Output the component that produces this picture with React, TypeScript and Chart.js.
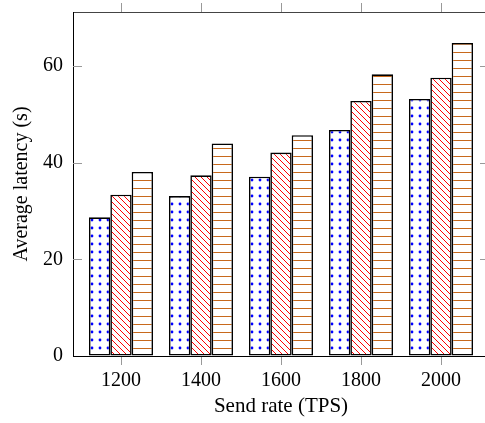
import React, { useEffect, useRef } from 'react';
import { Chart, registerables } from 'chart.js';

Chart.register(...registerables);

// ---- data ----
const sendRates = [1200, 1400, 1600, 1800, 2000];
const seriesDots = [28.7, 33.1, 37.1, 46.8, 53.2];
const seriesDiag = [33.4, 37.4, 42.1, 52.8, 57.6];
const seriesHoriz = [38.1, 44.0, 45.7, 58.3, 64.8];
const yTickValues = [0, 20, 40, 60];
const xTickValues = sendRates;
const xTitle = 'Send rate (TPS)';
const yTitle = 'Average latency (s)';

const FONT_FAMILY = "'Liberation Serif', 'Times New Roman', Times, serif";

function makePattern(kind: 'dots' | 'diag' | 'horiz'): CanvasPattern | string {
  const c = document.createElement('canvas');
  const s = kind === 'diag' ? 6 : 8;
  c.width = s;
  c.height = s;
  const g = c.getContext('2d');
  if (!g) return '#fff';
  g.fillStyle = '#ffffff';
  g.fillRect(0, 0, s, s);
  if (kind === 'dots') {
    g.fillStyle = '#0000ff';
    g.beginPath();
    g.arc(4, 4, 1.4, 0, Math.PI * 2);
    g.fill();
  } else if (kind === 'diag') {
    g.strokeStyle = '#ff0000';
    g.lineWidth = 1;
    g.beginPath();
    for (const k of [-s, 0, s]) {
      g.moveTo(k, 0);
      g.lineTo(k + s, s);
    }
    g.stroke();
  } else {
    g.fillStyle = '#c8691c';
    g.fillRect(0, 4, s, 1);
  }
  const p = g.createPattern(c, 'repeat');
  return p || '#fff';
}

const insideYTicks = {
  id: 'insideYTicks',
  afterDraw(chart: any) {
    const s = chart.scales.y;
    const { left, right } = chart.chartArea;
    const ctx = chart.ctx;
    ctx.save();
    ctx.strokeStyle = '#999';
    ctx.lineWidth = 1;
    s.ticks.forEach((t: any) => {
      if (t.value === s.min) return;
      const y = Math.round(s.getPixelForValue(t.value)) + 0.5;
      ctx.beginPath();
      ctx.moveTo(left, y);
      ctx.lineTo(left + 9, y);
      ctx.moveTo(right - 9, y);
      ctx.lineTo(right, y);
      ctx.stroke();
    });
    ctx.restore();
  },
};

export default function App() {
  const ref = useRef<HTMLCanvasElement | null>(null);

  useEffect(() => {
    if (!ref.current) return;
    const font = { family: FONT_FAMILY, size: 20 };
    const xTitleFont = { family: FONT_FAMILY, size: 21 };
    const toPoints = (vals: number[]) => sendRates.map((x, i) => ({ x, y: vals[i] }));
    const setX = (s: any) => {
      s.ticks = xTickValues.map((v) => ({ value: v }));
    };
    const barStyle = { borderColor: '#000', borderWidth: 1.6, borderSkipped: false };
    const chart = new Chart(ref.current, {
      type: 'bar',
      data: {
        datasets: [
          { data: toPoints(seriesDots), backgroundColor: makePattern('dots') as any, ...barStyle },
          { data: toPoints(seriesDiag), backgroundColor: makePattern('diag') as any, ...barStyle },
          { data: toPoints(seriesHoriz), backgroundColor: makePattern('horiz') as any, ...barStyle },
        ],
      } as any,
      options: {
        animation: false,
        responsive: false,
        maintainAspectRatio: false,
        layout: { padding: { left: 0, right: 11, top: 0, bottom: 0 } },
        plugins: { legend: { display: false }, tooltip: { enabled: false } },
        datasets: { bar: { categoryPercentage: 0.8, barPercentage: 1 } },
        scales: {
          x: {
            type: 'linear',
            position: 'bottom',
            min: 1080,
            max: 2120,
            offset: false,
            afterBuildTicks: setX,
            afterFit: (s: any) => {
              s.height = 67;
              s.paddingLeft = 0;
              s.paddingRight = 0;
            },
            grid: {
              offset: false,
              drawOnChartArea: false,
              drawTicks: true,
              tickLength: 9,
              color: '#999',
              lineWidth: 1,
            },
            border: { display: true, color: '#000', width: 1 },
            ticks: {
              padding: 4,
              font,
              color: '#000',
              maxRotation: 0,
              autoSkip: false,
              callback: (v: any) => String(v),
            },
            title: {
              display: true,
              text: xTitle,
              font: xTitleFont,
              color: '#000',
              padding: { top: 0, bottom: 4 },
            },
          },
          x2: {
            type: 'linear',
            position: 'top',
            min: 1080,
            max: 2120,
            offset: false,
            afterBuildTicks: setX,
            afterFit: (s: any) => {
              s.height = 12;
              s.paddingLeft = 0;
              s.paddingRight = 0;
            },
            grid: {
              offset: false,
              drawOnChartArea: false,
              drawTicks: true,
              tickLength: 9,
              color: '#999',
              lineWidth: 1,
            },
            border: { display: true, color: '#444', width: 1 },
            ticks: { display: false },
          },
          y: {
            type: 'linear',
            position: 'left',
            min: 0,
            max: 71.2,
            afterBuildTicks: (s: any) => {
              s.ticks = yTickValues.map((v) => ({ value: v }));
            },
            afterFit: (s: any) => {
              s.width = 73;
              s.paddingTop = 0;
              s.paddingBottom = 0;
            },
            grid: { drawOnChartArea: false, drawTicks: false },
            border: { display: true, color: '#000', width: 1 },
            ticks: { padding: 10, font, color: '#000', callback: (v: any) => String(v) },
            title: {
              display: true,
              text: yTitle,
              font,
              color: '#000',
              padding: { top: 9.5, bottom: 0 },
            },
          },
        },
      } as any,
      plugins: [insideYTicks],
    });
    return () => chart.destroy();
  }, []);

  return (
    <div
      style={{
        position: 'absolute',
        left: 0,
        top: 0,
        width: 485,
        height: 423,
        overflow: 'hidden',
        background: '#fff',
      }}
    >
      <canvas ref={ref} width={500} height={423} style={{ display: 'block' }} />
    </div>
  );
}
